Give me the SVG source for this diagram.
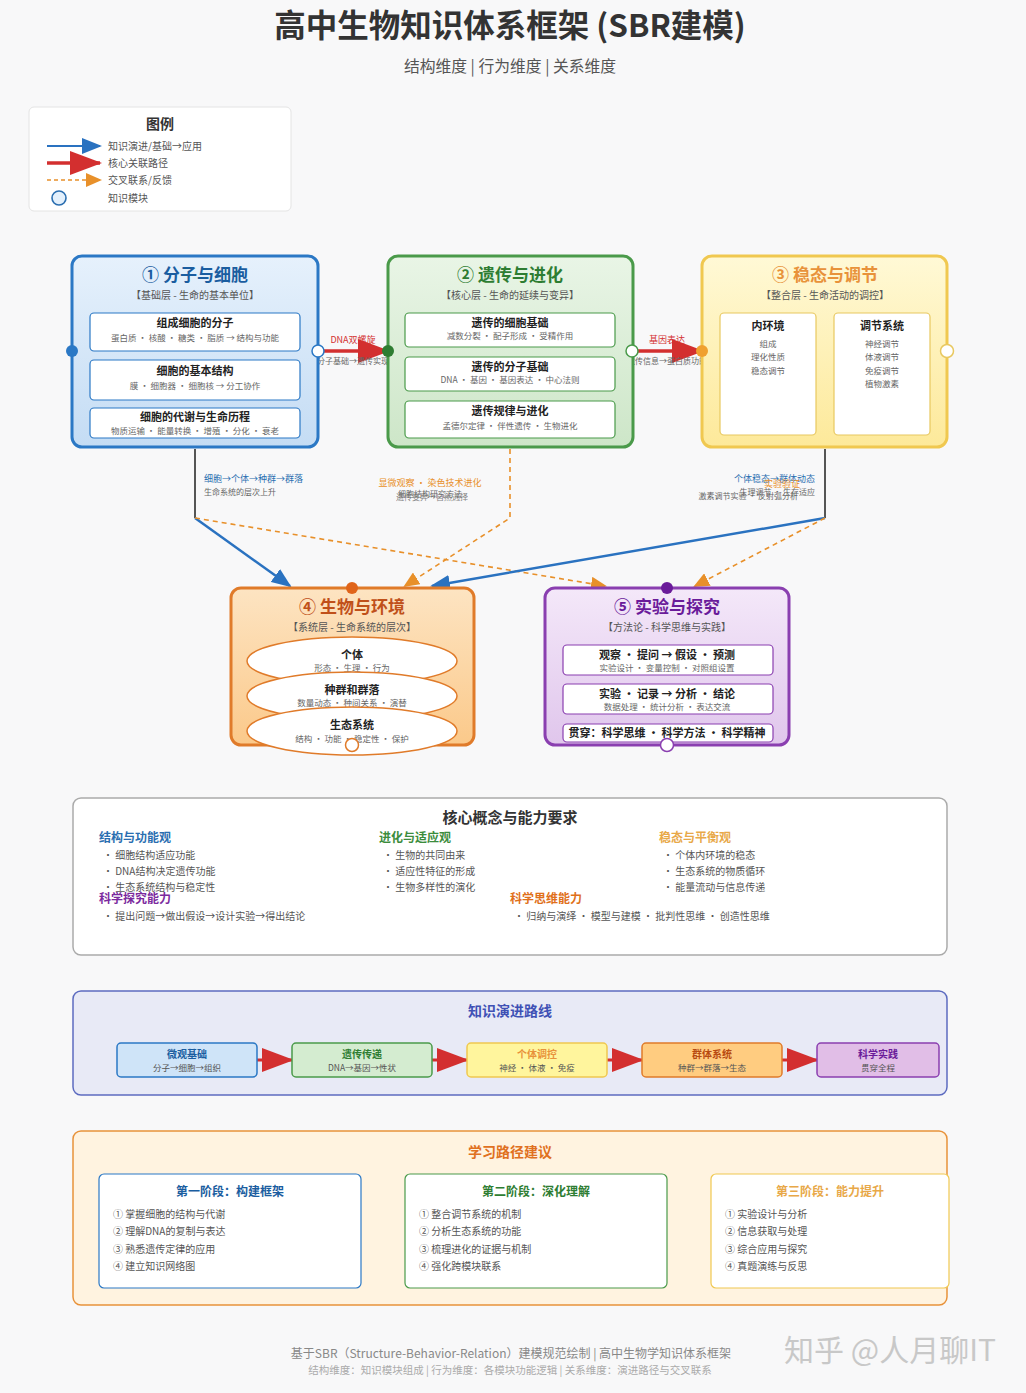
<svg xmlns="http://www.w3.org/2000/svg" width="1026" height="1393" viewBox="0 0 1026 1393">
<defs>
<style>
text{font-family:"Noto Sans CJK SC","Noto Sans",sans-serif;}
.c{text-anchor:middle;}
.mt{font-size:17px;font-weight:bold;}
.ms{font-size:10px;fill:#555;}
.bt{font-size:11px;font-weight:bold;fill:#222;}
.bs{font-size:8.5px;fill:#666;}
.box{fill:#fff;stroke-width:1.2;}
.it{font-size:10px;fill:#555;}
.lt{font-size:12px;font-weight:bold;}
</style>
<linearGradient id="gBlue" x1="0" y1="0" x2="0" y2="1"><stop offset="0" stop-color="#e6f1fc"/><stop offset="1" stop-color="#c4dcf4"/></linearGradient>
<linearGradient id="gGreen" x1="0" y1="0" x2="0" y2="1"><stop offset="0" stop-color="#e9f5e6"/><stop offset="1" stop-color="#cde6c8"/></linearGradient>
<linearGradient id="gYellow" x1="0" y1="0" x2="0" y2="1"><stop offset="0" stop-color="#fff9d6"/><stop offset="1" stop-color="#fde99a"/></linearGradient>
<linearGradient id="gOrange" x1="0" y1="0" x2="0" y2="1"><stop offset="0" stop-color="#fde4c2"/><stop offset="1" stop-color="#fbc98a"/></linearGradient>
<linearGradient id="gPurple" x1="0" y1="0" x2="0" y2="1"><stop offset="0" stop-color="#f4e8f9"/><stop offset="1" stop-color="#e0c6ec"/></linearGradient>
<marker id="aBlue" markerUnits="userSpaceOnUse" markerWidth="20" markerHeight="16" refX="18" refY="8" orient="auto"><path d="M0,0 L20,8 L0,16 Z" fill="#2a72c0"/></marker>
<marker id="aRed" markerUnits="userSpaceOnUse" markerWidth="32" markerHeight="24" refX="30" refY="12" orient="auto"><path d="M0,0 L32,12 L0,24 Z" fill="#d32f2f"/></marker>
<marker id="aOrange" markerUnits="userSpaceOnUse" markerWidth="16" markerHeight="14" refX="14" refY="7" orient="auto"><path d="M0,0 L16,7 L0,14 Z" fill="#e8902a"/></marker>
</defs>
<rect width="1026" height="1393" fill="#f8f8f9"/>

<g id="title">
<text x="510" y="37" class="c" font-size="31.5" font-weight="bold" fill="#333">高中生物知识体系框架 (SBR建模)</text>
<text x="510" y="72" class="c" font-size="15.8" fill="#555">结构维度 | 行为维度 | 关系维度</text>
</g>

<g id="legend">
<rect x="29" y="107" width="262" height="104" rx="5" fill="#fff" stroke="#e4e4e4"/>
<text x="160" y="129" class="c" font-size="14" font-weight="bold" fill="#333">图例</text>
<line x1="47" y1="146" x2="100" y2="146" stroke="#2a72c0" stroke-width="2" marker-end="url(#aBlue)"/>
<text x="108" y="150" font-size="10" fill="#555">知识演进/基础→应用</text>
<line x1="47" y1="163" x2="100" y2="163" stroke="#d32f2f" stroke-width="3.5" marker-end="url(#aRed)"/>
<text x="108" y="167" font-size="10" fill="#555">核心关联路径</text>
<line x1="47" y1="180" x2="100" y2="180" stroke="#e8902a" stroke-width="1.6" stroke-dasharray="4,3" marker-end="url(#aOrange)"/>
<text x="108" y="184" font-size="10" fill="#555">交叉联系/反馈</text>
<circle cx="59" cy="198" r="7" fill="#e3f0fc" stroke="#2a6eb0" stroke-width="1.6"/>
<text x="108" y="202" font-size="10" fill="#555">知识模块</text>
</g>

<g id="connectors">
<line x1="318" y1="351" x2="388" y2="351" stroke="#d32f2f" stroke-width="3.5" marker-end="url(#aRed)"/>
<text x="353" y="343" class="c" font-size="9" fill="#d32f2f">DNA双螺旋</text>
<text x="353" y="364" class="c" font-size="8" fill="#666">分子基础→遗传实现</text>
<line x1="632" y1="351" x2="702" y2="351" stroke="#d32f2f" stroke-width="3.5" marker-end="url(#aRed)"/>
<text x="667" y="343" class="c" font-size="9" fill="#d32f2f">基因表达</text>
<text x="667" y="364" class="c" font-size="8" fill="#666">遗传信息→蛋白质功能</text>

<line x1="195" y1="449" x2="195" y2="518" stroke="#555" stroke-width="2"/>
<line x1="195" y1="518" x2="290" y2="586" stroke="#2a72c0" stroke-width="2.5" marker-end="url(#aBlue)"/>
<line x1="195" y1="518" x2="605" y2="586" stroke="#e8902a" stroke-width="1.6" stroke-dasharray="5,4" marker-end="url(#aOrange)"/>
<text x="204" y="482" font-size="9" fill="#2a6eb0">细胞→个体→种群→群落</text>
<text x="204" y="495" font-size="8" fill="#666">生命系统的层次上升</text>

<polyline points="510,449 510,518 405,586" fill="none" stroke="#e8902a" stroke-width="1.6" stroke-dasharray="5,4" marker-end="url(#aOrange)"/>
<text x="430" y="486" class="c" font-size="9" fill="#e8902a">显微观察 · 染色技术进化</text>
<text x="430" y="497" class="c" font-size="8" fill="#666">细胞结构研究方法</text>
<text x="432" y="500" class="c" font-size="8" fill="#666" opacity="0.8">遗传变异→自然选择</text>

<line x1="825" y1="449" x2="825" y2="518" stroke="#555" stroke-width="2"/>
<line x1="825" y1="518" x2="432" y2="586" stroke="#2a72c0" stroke-width="2.5" marker-end="url(#aBlue)"/>
<line x1="825" y1="518" x2="695" y2="586" stroke="#e8902a" stroke-width="1.6" stroke-dasharray="5,4" marker-end="url(#aOrange)"/>
<text x="815" y="482" font-size="9" fill="#2a6eb0" text-anchor="end">个体稳态→群体动态</text>
<text x="800" y="487" font-size="9" fill="#e8902a" text-anchor="end">实验验证</text>
<text x="815" y="495" font-size="8" fill="#666" text-anchor="end">生理调节 · 生存适应</text>
<text x="798" y="499" font-size="8" fill="#666" text-anchor="end">激素调节实验 · 反射弧分析</text>

<polygon points="818,366 834,373 818,380" fill="#2e8b2e"/>
</g>

<g id="m1">
<rect x="72" y="256" width="246" height="191" rx="10" fill="url(#gBlue)" stroke="#2b78c5" stroke-width="3"/>
<text x="195" y="281" class="c mt" fill="#1a5da0">① 分子与细胞</text>
<text x="195" y="299" class="c ms">【基础层 - 生命的基本单位】</text>
<rect x="90" y="313" width="210" height="38" rx="4" class="box" stroke="#2b78c5"/>
<text x="195" y="327" class="c bt">组成细胞的分子</text>
<text x="195" y="341" class="c bs">蛋白质 · 核酸 · 糖类 · 脂质 → 结构与功能</text>
<rect x="90" y="360" width="210" height="40" rx="4" class="box" stroke="#2b78c5"/>
<text x="195" y="375" class="c bt">细胞的基本结构</text>
<text x="195" y="389" class="c bs">膜 · 细胞器 · 细胞核 → 分工协作</text>
<rect x="90" y="408" width="210" height="30" rx="4" class="box" stroke="#2b78c5"/>
<text x="195" y="421" class="c bt">细胞的代谢与生命历程</text>
<text x="195" y="434" class="c bs">物质运输 · 能量转换 · 增殖 · 分化 · 衰老</text>
<circle cx="72" cy="351" r="6" fill="#2b78c5"/>
<circle cx="318" cy="351" r="6" fill="#fff" stroke="#2b78c5" stroke-width="1.5"/>
</g>

<g id="m2">
<rect x="388" y="256" width="245" height="191" rx="10" fill="url(#gGreen)" stroke="#4a9a4a" stroke-width="3"/>
<text x="510" y="281" class="c mt" fill="#2e7d32">② 遗传与进化</text>
<text x="510" y="299" class="c ms">【核心层 - 生命的延续与变异】</text>
<rect x="405" y="313" width="210" height="34" rx="4" class="box" stroke="#4a9a4a"/>
<text x="510" y="327" class="c bt">遗传的细胞基础</text>
<text x="510" y="339" class="c bs">减数分裂 · 配子形成 · 受精作用</text>
<rect x="405" y="357" width="210" height="34" rx="4" class="box" stroke="#4a9a4a"/>
<text x="510" y="371" class="c bt">遗传的分子基础</text>
<text x="510" y="383" class="c bs">DNA · 基因 · 基因表达 · 中心法则</text>
<rect x="405" y="401" width="210" height="37" rx="4" class="box" stroke="#4a9a4a"/>
<text x="510" y="415" class="c bt">遗传规律与进化</text>
<text x="510" y="429" class="c bs">孟德尔定律 · 伴性遗传 · 生物进化</text>
<circle cx="388" cy="351" r="6" fill="#2e7d32"/>
<circle cx="632" cy="351" r="6" fill="#fff" stroke="#4a9a4a" stroke-width="1.5"/>
</g>

<g id="m3">
<rect x="702" y="256" width="245" height="191" rx="10" fill="url(#gYellow)" stroke="#f0c850" stroke-width="3"/>
<text x="825" y="281" class="c mt" fill="#e8923a">③ 稳态与调节</text>
<text x="825" y="299" class="c ms">【整合层 - 生命活动的调控】</text>
<rect x="720" y="313" width="96" height="122" rx="4" class="box" stroke="#e8c860"/>
<text x="768" y="330" class="c bt" font-size="10">内环境</text>
<text x="768" y="347" class="c bs">组成</text>
<text x="768" y="360" class="c bs">理化性质</text>
<text x="768" y="374" class="c bs">稳态调节</text>
<rect x="834" y="313" width="96" height="122" rx="4" class="box" stroke="#e8c860"/>
<text x="882" y="330" class="c bt" font-size="10">调节系统</text>
<text x="882" y="347" class="c bs">神经调节</text>
<text x="882" y="360" class="c bs">体液调节</text>
<text x="882" y="374" class="c bs">免疫调节</text>
<text x="882" y="387" class="c bs">植物激素</text>
<circle cx="702" cy="351" r="6" fill="#f0a030"/>
<circle cx="947" cy="351" r="6.5" fill="#fff" stroke="#e8c860" stroke-width="1.5"/>
</g>

<g id="m4">
<rect x="231" y="588" width="243" height="157" rx="10" fill="url(#gOrange)" stroke="#e07b2a" stroke-width="3"/>
<text x="352" y="613" class="c mt" fill="#c0501a">④ 生物与环境</text>
<text x="352" y="631" class="c ms">【系统层 - 生命系统的层次】</text>
<ellipse cx="352" cy="661" rx="105" ry="24" fill="#fff" stroke="#e07b2a" stroke-width="1.5"/>
<text x="352" y="659" class="c bt">个体</text>
<text x="352" y="671" class="c bs">形态 · 生理 · 行为</text>
<ellipse cx="352" cy="696" rx="105" ry="24" fill="#fff" stroke="#e07b2a" stroke-width="1.5"/>
<text x="352" y="694" class="c bt">种群和群落</text>
<text x="352" y="706" class="c bs">数量动态 · 种间关系 · 演替</text>
<ellipse cx="352" cy="731" rx="105" ry="24" fill="#fff" stroke="#e07b2a" stroke-width="1.5"/>
<text x="352" y="729" class="c bt">生态系统</text>
<text x="352" y="742" class="c bs">结构 · 功能 · 稳定性 · 保护</text>
<circle cx="352" cy="588" r="6" fill="#e0641a"/>
<circle cx="352" cy="745" r="6.5" fill="#fff" stroke="#e07b2a" stroke-width="1.5"/>
</g>

<g id="m5">
<rect x="545" y="588" width="244" height="157" rx="10" fill="url(#gPurple)" stroke="#8a3fb0" stroke-width="3"/>
<text x="667" y="613" class="c mt" fill="#6a1b9a">⑤ 实验与探究</text>
<text x="667" y="631" class="c ms">【方法论 - 科学思维与实践】</text>
<rect x="563" y="645" width="210" height="30" rx="4" class="box" stroke="#8a3fb0"/>
<text x="667" y="659" class="c bt" font-size="10">观察 · 提问 → 假设 · 预测</text>
<text x="667" y="671" class="c bs">实验设计 · 变量控制 · 对照组设置</text>
<rect x="563" y="684" width="210" height="30" rx="4" class="box" stroke="#8a3fb0"/>
<text x="667" y="698" class="c bt" font-size="10">实验 · 记录 → 分析 · 结论</text>
<text x="667" y="710" class="c bs">数据处理 · 统计分析 · 表达交流</text>
<rect x="563" y="724" width="210" height="18" rx="4" class="box" stroke="#8a3fb0"/>
<text x="667" y="737" class="c bt" font-size="9.5">贯穿：科学思维 · 科学方法 · 科学精神</text>
<circle cx="667" cy="588" r="6" fill="#6a1b9a"/>
<circle cx="667" cy="745" r="6.5" fill="#fff" stroke="#8a3fb0" stroke-width="1.5"/>
</g>

<g id="core">
<rect x="73" y="798" width="874" height="157" rx="8" fill="#fff" stroke="#aaa" stroke-width="1.5"/>
<text x="510" y="823" class="c" font-size="15" font-weight="bold" fill="#333">核心概念与能力要求</text>
<text x="99" y="842" class="lt" fill="#2a6eb0">结构与功能观</text>
<text x="103" y="859" class="it">· 细胞结构适应功能</text>
<text x="103" y="875" class="it">· DNA结构决定遗传功能</text>
<text x="103" y="891" class="it">· 生态系统结构与稳定性</text>
<text x="379" y="842" class="lt" fill="#3c8c3c">进化与适应观</text>
<text x="383" y="859" class="it">· 生物的共同由来</text>
<text x="383" y="875" class="it">· 适应性特征的形成</text>
<text x="383" y="891" class="it">· 生物多样性的演化</text>
<text x="659" y="842" class="lt" fill="#e8a848">稳态与平衡观</text>
<text x="663" y="859" class="it">· 个体内环境的稳态</text>
<text x="663" y="875" class="it">· 生态系统的物质循环</text>
<text x="663" y="891" class="it">· 能量流动与信息传递</text>
<text x="99" y="903" class="lt" fill="#7b2a9e">科学探究能力</text>
<text x="103" y="920" class="it">· 提出问题→做出假设→设计实验→得出结论</text>
<text x="510" y="903" class="lt" fill="#e0701a">科学思维能力</text>
<text x="514" y="920" class="it">· 归纳与演绎 · 模型与建模 · 批判性思维 · 创造性思维</text>
</g>

<g id="route">
<rect x="73" y="991" width="874" height="104" rx="8" fill="#e8eaf6" stroke="#5c6bc0" stroke-width="1.5"/>
<text x="510" y="1016" class="c" font-size="14" font-weight="bold" fill="#3f51b5">知识演进路线</text>
<line x1="257" y1="1060" x2="292" y2="1060" stroke="#d32f2f" stroke-width="3" marker-end="url(#aRed)"/>
<line x1="432" y1="1060" x2="467" y2="1060" stroke="#d32f2f" stroke-width="3" marker-end="url(#aRed)"/>
<line x1="607" y1="1060" x2="642" y2="1060" stroke="#d32f2f" stroke-width="3" marker-end="url(#aRed)"/>
<line x1="782" y1="1060" x2="817" y2="1060" stroke="#d32f2f" stroke-width="3" marker-end="url(#aRed)"/>
<g id="r1"><rect x="117" y="1043" width="140" height="34" rx="4" fill="#cfe4f8" stroke="#2b78c5" stroke-width="1.5"/>
<text x="187" y="1058" class="c" font-size="10" font-weight="bold" fill="#1a5da0">微观基础</text>
<text x="187" y="1071" class="c" font-size="8.5" fill="#555">分子→细胞→组织</text></g>
<g id="r2"><rect x="292" y="1043" width="140" height="34" rx="4" fill="#d4ecd0" stroke="#4a9a4a" stroke-width="1.5"/>
<text x="362" y="1058" class="c" font-size="10" font-weight="bold" fill="#2e7d32">遗传传递</text>
<text x="362" y="1071" class="c" font-size="8.5" fill="#555">DNA→基因→性状</text></g>
<g id="r3"><rect x="467" y="1043" width="140" height="34" rx="4" fill="#fff59d" stroke="#f0c850" stroke-width="1.5"/>
<text x="537" y="1058" class="c" font-size="10" font-weight="bold" fill="#e8923a">个体调控</text>
<text x="537" y="1071" class="c" font-size="8.5" fill="#555">神经 · 体液 · 免疫</text></g>
<g id="r4"><rect x="642" y="1043" width="140" height="34" rx="4" fill="#ffcc80" stroke="#e07b2a" stroke-width="1.5"/>
<text x="712" y="1058" class="c" font-size="10" font-weight="bold" fill="#b84a10">群体系统</text>
<text x="712" y="1071" class="c" font-size="8.5" fill="#555">种群→群落→生态</text></g>
<g id="r5"><rect x="817" y="1043" width="122" height="34" rx="4" fill="#e1bee7" stroke="#8a3fb0" stroke-width="1.5"/>
<text x="878" y="1058" class="c" font-size="10" font-weight="bold" fill="#6a1b9a">科学实践</text>
<text x="878" y="1071" class="c" font-size="8.5" fill="#555">贯穿全程</text></g>
</g>

<g id="learn">
<rect x="73" y="1131" width="874" height="174" rx="8" fill="#fff3e0" stroke="#e8923a" stroke-width="1.5"/>
<text x="510" y="1157" class="c" font-size="14" font-weight="bold" fill="#e07020">学习路径建议</text>
<g id="s1"><rect x="99" y="1174" width="262" height="114" rx="5" fill="#fff" stroke="#2b78c5" stroke-width="1.2"/>
<text x="230" y="1196" class="c lt" fill="#1a5da0">第一阶段：构建框架</text>
<text x="113" y="1218" class="it">① 掌握细胞的结构与代谢</text>
<text x="113" y="1235" class="it">② 理解DNA的复制与表达</text>
<text x="113" y="1253" class="it">③ 熟悉遗传定律的应用</text>
<text x="113" y="1270" class="it">④ 建立知识网络图</text></g>
<g id="s2"><rect x="405" y="1174" width="262" height="114" rx="5" fill="#fff" stroke="#4a9a4a" stroke-width="1.2"/>
<text x="536" y="1196" class="c lt" fill="#2e7d32">第二阶段：深化理解</text>
<text x="419" y="1218" class="it">① 整合调节系统的机制</text>
<text x="419" y="1235" class="it">② 分析生态系统的功能</text>
<text x="419" y="1253" class="it">③ 梳理进化的证据与机制</text>
<text x="419" y="1270" class="it">④ 强化跨模块联系</text></g>
<g id="s3"><rect x="711" y="1174" width="238" height="114" rx="5" fill="#fff" stroke="#f0c850" stroke-width="1.2"/>
<text x="830" y="1196" class="c lt" fill="#e8a848">第三阶段：能力提升</text>
<text x="725" y="1218" class="it">① 实验设计与分析</text>
<text x="725" y="1235" class="it">② 信息获取与处理</text>
<text x="725" y="1253" class="it">③ 综合应用与探究</text>
<text x="725" y="1270" class="it">④ 真题演练与反思</text></g>
</g>

<g id="footer">
<text x="511" y="1358" class="c" font-size="12" fill="#888">基于SBR（Structure-Behavior-Relation）建模规范绘制 | 高中生物学知识体系框架</text>
<text x="510" y="1374" class="c" font-size="10.5" fill="#aaa">结构维度：知识模块组成 | 行为维度：各模块功能逻辑 | 关系维度：演进路径与交叉联系</text>
<text x="890" y="1361" class="c" font-size="30" fill="#c8c8c8">知乎 @人月聊IT</text>
</g>
</svg>
